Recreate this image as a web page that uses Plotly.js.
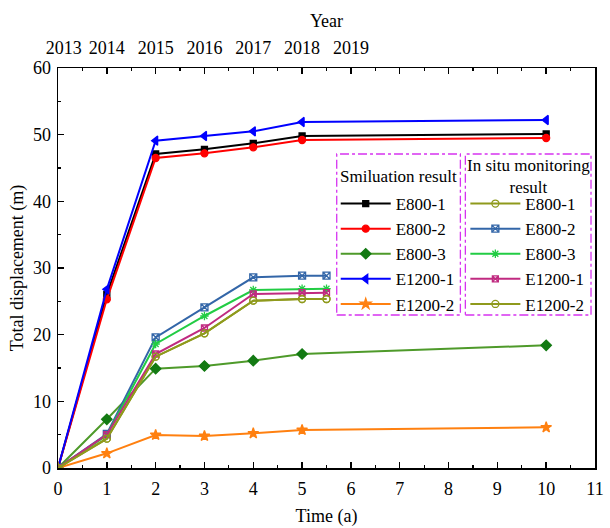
<!DOCTYPE html>
<html><head><meta charset="utf-8">
<script src="https://cdn.plot.ly/plotly-3.0.1.min.js"></script>
<style>body{margin:0;padding:0;background:#fff}#chart{width:610px;height:528px}</style>
</head><body><div id="chart"></div>
<script>
// Simulation results (time in years)
const simTime = [0, 1, 2, 3, 4, 5, 10];
const simE800_1 = [0, 26.0, 47.1, 47.8, 48.7, 49.8, 50.1];
const simE800_2 = [0, 25.3, 46.5, 47.2, 48.1, 49.2, 49.5];
const simE800_3 = [0, 7.3, 14.9, 15.3, 16.1, 17.1, 18.4];
const simE1200_1 = [0, 26.8, 49.1, 49.8, 50.5, 51.9, 52.2];
const simE1200_2 = [0, 2.2, 4.95, 4.8, 5.2, 5.7, 6.1];

// In situ monitoring results
const monTime = [0, 1, 2, 3, 4, 5, 5.5];
const monE800_1 = [0, 4.4, 16.7, 20.2, 25.1, 25.35, 25.35];
const monE800_2 = [0, 5.1, 19.6, 24.1, 28.6, 28.85, 28.85];
const monE800_3 = [0, 4.9, 18.6, 22.8, 26.7, 26.9, 26.9];
const monE1200_1 = [0, 5.0, 17.1, 21.0, 26.1, 26.3, 26.3];
const monE1200_2 = [0, 4.4, 16.7, 20.2, 25.1, 25.35, 25.35];

const yearLabels = ['2013','2014','2015','2016','2017','2018','2019'];
const yearPos = [0.12, 1, 2, 3, 4, 5, 6];

const FONT = '"Liberation Serif", "Times New Roman", serif';

function tr(x, y, name, color, symbol, legend, mcolor, msize) {
  return {
    x: x, y: y, name: name, type: 'scatter', mode: 'lines+markers',
    line: {color: color, width: 2},
    marker: {symbol: symbol, color: mcolor || color, size: msize || 7,
             line: {color: mcolor || color, width: 1.3}},
    legend: legend
  };
}

const data = [
  tr(simTime, simE800_1, 'E800-1', '#000000', 'square', 'legend', null, 6),
  tr(simTime, simE800_2, 'E800-2', '#ff0000', 'circle', 'legend', null, 7),
  tr(simTime, simE800_3, 'E800-3', '#4e9a2a', 'diamond', 'legend', '#137a13', 8),
  tr(simTime, simE1200_1, 'E1200-1', '#0000ff', 'triangle-left', 'legend', null, 8),
  tr(simTime, simE1200_2, 'E1200-2', '#ff8010', 'star', 'legend', null, 8),
  tr(monTime, monE800_1, 'E800-1', '#8f9a1c', 'circle-open', 'legend2', null, 7),
  tr(monTime, monE800_2, 'E800-2', '#3366a8', 'square-x-open', 'legend2', null, 7),
  tr(monTime, monE800_3, 'E800-3', '#22cc44', 'asterisk-open', 'legend2', null, 7),
  tr(monTime, monE1200_1, 'E1200-1', '#c02a80', 'square-x-open', 'legend2', null, 6),
  tr(monTime, monE1200_2, 'E1200-2', '#8f9a1c', 'circle-open', 'legend2', null, 7),
  {x: [null], y: [null], xaxis: 'x2', type: 'scatter', mode: 'markers', showlegend: false, hoverinfo: 'skip'}
];

const px = v => (v - 57.5) / 538.5;
const py = v => (468 - v) / 400;

const layout = {
  width: 610, height: 528,
  margin: {l: 57.5, r: 14.5, t: 68, b: 60},
  paper_bgcolor: '#fff', plot_bgcolor: '#fff',
  font: {family: FONT, size: 18, color: '#000'},
  showlegend: true,
  xaxis: {
    range: [0, 11], dtick: 1, tick0: 0, showgrid: false, zeroline: false,
    showline: true, linecolor: '#000', linewidth: 1.5, mirror: 'allticks',
    ticks: 'inside', ticklen: 6, tickwidth: 1.5, tickcolor: '#000',
    minor: {dtick: 0.5, ticks: 'inside', ticklen: 3, tickwidth: 1.2, tickcolor: '#000', showgrid: false},
    tickfont: {family: FONT, size: 18}, ticklabelstandoff: 4,
    title: {text: 'Time (a)', font: {family: FONT, size: 18}, standoff: 11}
  },
  xaxis2: {
    overlaying: 'x', side: 'top', range: [0, 11],
    tickmode: 'array', tickvals: yearPos, ticktext: yearLabels,
    showgrid: false, zeroline: false, showline: false, ticks: '',
    tickfont: {family: FONT, size: 18}, ticklabelstandoff: 9,
    title: {text: 'Year', font: {family: FONT, size: 18}, standoff: 6}
  },
  yaxis: {
    range: [0, 60], dtick: 10, showgrid: false, zeroline: false,
    showline: true, linecolor: '#000', linewidth: 1.5, mirror: true,
    ticks: 'inside', ticklen: 6, tickwidth: 1.5, tickcolor: '#000',
    minor: {dtick: 5, ticks: 'inside', ticklen: 3, tickwidth: 1.2, tickcolor: '#000', showgrid: false},
    tickfont: {family: FONT, size: 18}, ticklabelstandoff: 2,
    title: {text: 'Total displacement (m)', font: {family: FONT, size: 18}, standoff: 4}
  },
  legend: {
    x: px(336), y: py(186), xanchor: 'left', yanchor: 'top',
    bgcolor: 'rgba(0,0,0,0)', borderwidth: 0,
    font: {family: FONT, size: 17}, tracegroupgap: 0, itemwidth: 50
  },
  legend2: {
    x: px(466), y: py(186), xanchor: 'left', yanchor: 'top',
    bgcolor: 'rgba(0,0,0,0)', borderwidth: 0,
    font: {family: FONT, size: 17}, tracegroupgap: 0, itemwidth: 50
  },
  annotations: [
    {xref: 'paper', yref: 'paper', x: px(399), y: py(176), xanchor: 'center', yanchor: 'middle',
     text: 'Smiluation result', showarrow: false, font: {family: FONT, size: 17}},
    {xref: 'paper', yref: 'paper', x: px(529), y: py(176), xanchor: 'center', yanchor: 'middle',
     text: 'In situ monitoring<br>result', showarrow: false, font: {family: FONT, size: 17}}
  ],
  shapes: [
    {type: 'rect', xref: 'paper', yref: 'paper', x0: px(337), x1: px(461), y0: py(315), y1: py(154),
     line: {color: '#d633f0', width: 1.3, dash: 'dashdot'}, fillcolor: 'rgba(0,0,0,0)'},
    {type: 'rect', xref: 'paper', yref: 'paper', x0: px(466), x1: px(592), y0: py(315), y1: py(154),
     line: {color: '#d633f0', width: 1.3, dash: 'dashdot'}, fillcolor: 'rgba(0,0,0,0)'}
  ]
};

Plotly.newPlot('chart', data, layout, {displayModeBar: false, staticPlot: true});
</script>
</body></html>
